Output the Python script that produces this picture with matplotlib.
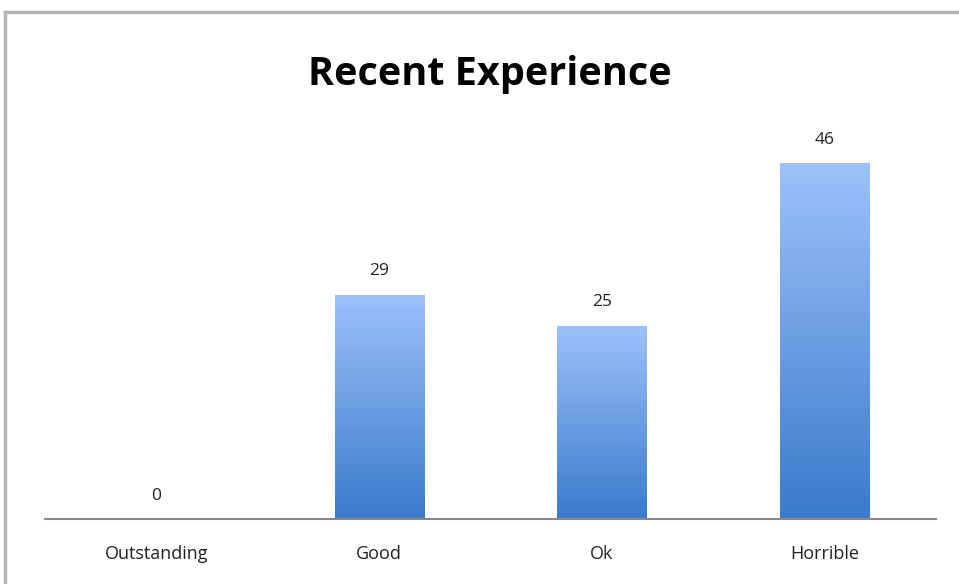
import matplotlib
matplotlib.use("Agg")
import matplotlib.pyplot as plt
import numpy as np
from matplotlib.colors import LinearSegmentedColormap
from matplotlib.lines import Line2D

categories = ["Outstanding", "Good", "Ok", "Horrible"]
values = [0, 29, 25, 46]
title = "Recent Experience"

plt.rcParams['font.family'] = ['Open Sans', 'DejaVu Sans']

W, H = 959, 584
fig = plt.figure(figsize=(W / 100, H / 100), dpi=100)
ax = fig.add_axes([45 / W, 65 / H, (936 - 45) / W, (519 - 132) / H])

x = np.arange(len(categories))
bw = 0.4
bars = ax.bar(x, values, width=bw, color='none', edgecolor='none')
cmap = LinearSegmentedColormap.from_list("g", ["#3a7acb", "#9dc1fa"])
grad = np.linspace(0, 1, 256).reshape(-1, 1)
for b, v in zip(bars, values):
    if v <= 0:
        continue
    x0, y0 = b.get_x(), b.get_y()
    im = ax.imshow(grad, extent=[x0, x0 + b.get_width(), y0, y0 + b.get_height()],
                   origin='lower', aspect='auto', cmap=cmap, zorder=2)
    im.set_clip_path(b)

for xi, v in zip(x, values):
    ax.text(xi, v + 3.0, str(v), ha='center', va='center', fontsize=12.5, color='#222222')

ax.set_xlim(-0.5, len(categories) - 0.5)
ax.set_ylim(0, 50)
for s in ['top', 'right', 'left']:
    ax.spines[s].set_visible(False)
ax.spines['bottom'].set_color('#888888')
ax.spines['bottom'].set_linewidth(1.5)
ax.set_yticks([])
ax.set_xticks(x)
ax.set_xticklabels(categories, fontsize=13, color='#222222')
ax.tick_params(axis='x', length=0, pad=19)

fig.text(490 / W, 1 - 75 / H, title, ha='center', va='center', fontsize=28.5,
         fontweight='bold', color='black')

# outer frame
fig.add_artist(Line2D([5 / W, 1], [1 - 12 / H, 1 - 12 / H], color='#b5b5b5', lw=2.5,
                      transform=fig.transFigure))
fig.add_artist(Line2D([5 / W, 5 / W], [0, 1 - 12 / H], color='#b5b5b5', lw=2.5,
                      transform=fig.transFigure))

fig.savefig("out.png", dpi=100)
